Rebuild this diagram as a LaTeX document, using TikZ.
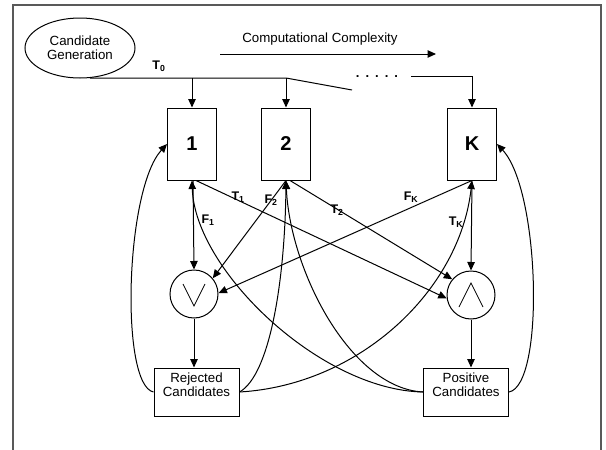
\documentclass[tikz,border=0pt]{standalone}
\usepackage{fontspec}
\setmainfont{Liberation Sans}
\usetikzlibrary{arrows.meta,shapes.geometric}
\begin{document}
\begin{tikzpicture}[x=1pt,y=-1pt, line width=1pt,
  arr/.style={-{Triangle[length=8.5pt,width=7.5pt]}},
  numbox/.style={draw, minimum width=49pt, minimum height=72pt, inner sep=0pt, font=\fontsize{20}{20}\selectfont\bfseries},
  candbox/.style={draw, minimum width=85pt, minimum height=48pt, inner sep=0pt},
  gate/.style={draw, circle, minimum size=48pt, inner sep=0pt},
  txt/.style={font=\fontsize{13.3}{13.8}\selectfont, align=center, inner sep=0pt},
  lab/.style={font=\fontsize{12.5}{13}\selectfont\bfseries, inner sep=0pt},
  sym/.style={line width=0.7pt}]
\useasboundingbox (0,0) rectangle (606,450);
% frame
\draw[line width=1.6pt, black!65] (13,450) -- (13,5) -- (601,5) -- (601,450);

% candidate generation
\node[draw, ellipse, minimum width=110pt, minimum height=60pt, inner sep=0pt] (cg) at (80,48) {};
\node[txt] (cgtxt) at (80,48) {Candidate\\Generation};

% computational complexity
\node[txt] (cc) at (320,39) {Computational Complexity};
\coordinate (cca) at (220,54);
\coordinate (ccb) at (436,54);
\draw[arr] (cca) -- (ccb);

% boxes
\node[numbox] (b1) at (192,144) {1};
\node[numbox] (b2) at (286,144) {2};
\node[numbox] (bk) at (472,144) {K};

% gates
\node[gate] (or) at (194,294) {};
\node[gate] (and) at (471,295) {};
\draw[sym] ([shift={(-11,-10)}]or.center) -- ([shift={(0,12)}]or.center) -- ([shift={(11,-10)}]or.center);
\draw[sym] ([shift={(-12,12)}]and.center) -- ([shift={(0,-12)}]and.center) -- ([shift={(12,12)}]and.center);

% candidate boxes
\node[candbox] (rej) at (196.5,392) {};
\node[txt] (rejtxt) at (196.5,385) {Rejected\\Candidates};
\node[candbox] (pos) at (466,392) {};
\node[txt] (postxt) at (466,385) {Positive\\Candidates};

% top distribution line
\coordinate (t0s) at (90,78);
\coordinate (t0a) at (192,78);
\coordinate (t0b) at (286,78);
\coordinate (t0c) at (352,90);
\coordinate (tkl) at (411,76);
\coordinate (tkr) at (472,76);
\draw (t0s) -- (t0b) -- (t0c);
\draw[arr] (t0a) -- (b1.north);
\draw[arr] (t0b) -- (b2.north);
\draw (tkl) -- (tkr);
\draw[arr] (tkr) -- (bk.north);
\node[font=\fontsize{13}{13}\selectfont\bfseries, inner sep=0pt] (dots) at (377,77) {.\hspace{6pt}.\hspace{6pt}.\hspace{6pt}.\hspace{6pt}.};
\node[lab] (lt0) at (159,66) {T\textsubscript{0}};

% straight outputs
\draw[arr] ([xshift=1pt]b1.south) -- (or.north);
\draw[arr] ([xshift=4pt]b1.south) -- (and.188);
\draw[arr] (b2.south) -- (or.40);
\draw[arr] ([xshift=4pt]b2.south) -- (and.140);
\draw[arr] (bk.south) -- (or.2);
\draw[arr] (bk.south) -- (and.north);
\draw[arr] (or.south) -- (or.south |- rej.north);
\draw[arr] (and.south) -- (and.south |- pos.north);

% labels
\node[lab] (lt1) at (238,197) {T\textsubscript{1}};
\node[lab] (lf2) at (271,200) {F\textsubscript{2}};
\node[lab] (lf1) at (208,220) {F\textsubscript{1}};
\node[lab] (lt2) at (337,210) {T\textsubscript{2}};
\node[lab] (lfk) at (411,197) {F\textsubscript{K}};
\node[lab] (ltk) at (456,222) {T\textsubscript{K}};

% feedback curves
\draw[arr] (rej.west) .. controls (120,385) and (125,190) .. (b1.west);
\draw[arr] (pos.east) .. controls (545,385) and (540,190) .. (bk.east);
\draw[arr] (pos.west) .. controls (320,390) and (195,270) .. (b1.south);
\draw[arr] (pos.west) .. controls (350,388) and (290,270) .. (b2.south);
\draw[arr] (rej.east) .. controls (270,375) and (285,280) .. (b2.south);
\draw[arr] (rej.east) .. controls (360,385) and (460,290) .. (bk.south);
\end{tikzpicture}
\end{document}
